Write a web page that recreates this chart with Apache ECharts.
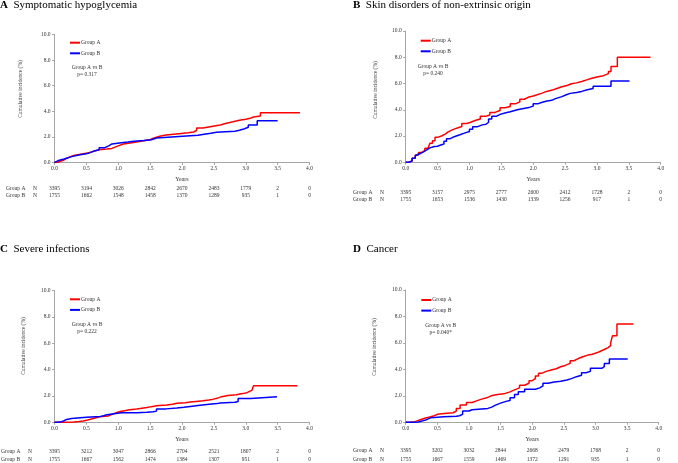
<!DOCTYPE html>
<html>
<head>
<meta charset="utf-8">
<script src="https://cdn.jsdelivr.net/npm/echarts@6/dist/echarts.min.js"></script>
<style>
  html, body { margin: 0; padding: 0; background: #fff; }
  #main { width: 678px; height: 463px; }
</style>
</head>
<body>
<div id="main"></div>
<script>
// cumulative incidence (%) step points [years, pct]
var aRed = [[0,0],[0.05,0.1],[0.09,0.2],[0.15,0.32],[0.19,0.46],[0.25,0.55],[0.3,0.68],[0.45,0.75],[0.52,0.85],[0.6,1.0],[0.7,1.05],[0.82,1.1],[0.9,1.2],[0.95,1.3],[1.0,1.45],[1.08,1.57],[1.24,1.7],[1.4,1.78],[1.5,1.9],[1.55,2.05],[1.65,2.15],[1.75,2.25],[1.95,2.32],[2.1,2.38],[2.18,2.5],[2.23,2.7],[2.33,2.8],[2.44,2.93],[2.6,3.05],[2.68,3.18],[2.8,3.3],[2.9,3.38],[3.0,3.45],[3.07,3.55],[3.12,3.63],[3.23,3.88],[3.85,3.88]];
var aBlue = [[0,0],[0.03,0.15],[0.06,0.27],[0.15,0.35],[0.2,0.46],[0.27,0.6],[0.4,0.68],[0.5,0.75],[0.55,0.9],[0.62,1.0],[0.7,1.16],[0.79,1.3],[0.85,1.45],[0.9,1.55],[1.05,1.6],[1.15,1.66],[1.25,1.72],[1.4,1.78],[1.52,1.92],[1.6,2.07],[2.07,2.12],[2.25,2.2],[2.35,2.28],[2.45,2.36],[2.54,2.45],[2.83,2.52],[2.9,2.62],[2.97,2.75],[3.04,2.93],[3.18,3.27],[3.5,3.27]];

var bRed = [[0,0],[0.05,0.1],[0.1,0.3],[0.15,0.55],[0.2,0.75],[0.25,0.9],[0.3,1.07],[0.35,1.2],[0.38,1.45],[0.42,1.65],[0.46,1.9],[0.5,2.0],[0.56,2.15],[0.62,2.3],[0.66,2.45],[0.72,2.6],[0.8,2.72],[0.88,2.95],[0.96,3.05],[1.02,3.2],[1.1,3.3],[1.17,3.5],[1.25,3.6],[1.32,3.8],[1.4,3.95],[1.48,4.15],[1.56,4.25],[1.64,4.45],[1.72,4.6],[1.79,4.8],[1.86,4.95],[1.92,5.05],[2.0,5.12],[2.05,5.25],[2.13,5.4],[2.21,5.5],[2.3,5.62],[2.37,5.75],[2.45,5.85],[2.53,5.98],[2.6,6.05],[2.68,6.16],[2.76,6.28],[2.84,6.4],[2.92,6.5],[3.0,6.6],[3.1,6.65],[3.13,6.75],[3.18,6.92],[3.22,7.3],[3.32,8.0],[3.84,8.0]];
var bBlue = [[0,0],[0.05,0.1],[0.1,0.3],[0.15,0.5],[0.17,0.65],[0.22,0.8],[0.28,0.95],[0.33,1.1],[0.38,1.2],[0.45,1.22],[0.5,1.3],[0.54,1.4],[0.6,1.6],[0.64,1.8],[0.7,1.95],[0.76,2.1],[0.85,2.22],[0.92,2.35],[1.0,2.52],[1.05,2.7],[1.12,2.85],[1.2,2.9],[1.26,3.05],[1.3,3.3],[1.35,3.5],[1.42,3.65],[1.48,3.78],[1.57,3.85],[1.64,4.0],[1.75,4.1],[1.85,4.2],[1.95,4.28],[2.0,4.45],[2.07,4.55],[2.13,4.65],[2.2,4.72],[2.29,4.85],[2.35,5.0],[2.45,5.14],[2.52,5.25],[2.58,5.32],[2.68,5.4],[2.76,5.52],[2.85,5.62],[2.94,5.8],[3.22,6.2],[3.51,6.2]];

var cRed = [[0,0],[0.1,0.01],[0.2,0.03],[0.3,0.06],[0.38,0.1],[0.45,0.18],[0.52,0.25],[0.58,0.35],[0.65,0.42],[0.71,0.48],[0.84,0.6],[0.9,0.72],[0.97,0.82],[1.03,0.9],[1.12,0.95],[1.18,1.01],[1.29,1.12],[1.45,1.19],[1.52,1.25],[1.6,1.31],[1.76,1.37],[1.85,1.45],[1.92,1.49],[2.05,1.54],[2.13,1.58],[2.22,1.63],[2.33,1.7],[2.42,1.76],[2.49,1.82],[2.55,1.95],[2.62,2.03],[2.72,2.1],[2.85,2.18],[2.95,2.25],[3.02,2.35],[3.06,2.45],[3.1,2.58],[3.12,2.77],[3.81,2.77]];
var cBlue = [[0,0],[0.05,0.05],[0.11,0.12],[0.15,0.22],[0.19,0.28],[0.27,0.38],[0.5,0.43],[0.65,0.45],[0.72,0.5],[0.77,0.58],[0.82,0.73],[1.05,0.73],[1.29,0.77],[1.45,0.8],[1.55,0.85],[1.6,1.02],[1.75,1.08],[1.92,1.14],[2.03,1.2],[2.13,1.27],[2.25,1.35],[2.39,1.42],[2.55,1.47],[2.6,1.52],[2.83,1.58],[2.88,1.8],[3.08,1.95],[3.49,1.95]];

var dRed = [[0,0],[0.07,0.05],[0.15,0.18],[0.22,0.3],[0.3,0.4],[0.38,0.5],[0.45,0.6],[0.5,0.68],[0.65,0.72],[0.75,0.85],[0.8,1.05],[0.86,1.3],[0.96,1.5],[1.05,1.62],[1.12,1.75],[1.2,1.85],[1.28,2.0],[1.35,2.1],[1.45,2.15],[1.55,2.3],[1.65,2.45],[1.72,2.6],[1.8,2.8],[1.88,2.95],[1.95,3.15],[2.0,3.3],[2.05,3.5],[2.1,3.7],[2.15,3.85],[2.22,3.95],[2.3,4.05],[2.38,4.2],[2.45,4.3],[2.52,4.45],[2.6,4.65],[2.66,4.8],[2.72,4.95],[2.8,5.08],[2.88,5.15],[2.95,5.25],[3.02,5.35],[3.07,5.5],[3.14,5.65],[3.2,5.8],[3.24,6.0],[3.27,6.55],[3.34,7.43],[3.6,7.43]];
var dBlue = [[0,0],[0.1,0.03],[0.2,0.12],[0.27,0.2],[0.33,0.35],[0.4,0.42],[0.6,0.45],[0.8,0.5],[0.85,0.6],[0.9,0.85],[1.0,0.95],[1.05,1.05],[1.3,1.15],[1.36,1.3],[1.42,1.45],[1.5,1.6],[1.6,1.65],[1.65,1.85],[1.72,2.1],[1.78,2.3],[1.88,2.5],[2.05,2.6],[2.12,2.75],[2.17,2.95],[2.25,3.05],[2.35,3.1],[2.45,3.2],[2.55,3.3],[2.62,3.45],[2.7,3.55],[2.78,3.75],[2.85,3.85],[2.92,4.08],[3.1,4.2],[3.14,4.45],[3.22,4.79],[3.51,4.79]];

// numbers at risk at 0, 0.5, ... 4.0 years
var aRiskA = [3395,3194,3026,2842,2670,2483,1779,2,0];
var aRiskB = [1755,1662,1548,1458,1370,1289,935,1,0];
var bRiskA = [3395,3157,2975,2777,2600,2412,1728,2,0];
var bRiskB = [1755,1653,1536,1430,1339,1256,917,1,0];
var cRiskA = [3395,3212,3047,2866,2704,2521,1807,2,0];
var cRiskB = [1755,1667,1562,1474,1384,1307,951,1,0];
var dRiskA = [3395,3202,3032,2844,2668,2479,1768,2,0];
var dRiskB = [1755,1667,1559,1469,1372,1291,935,1,0];

var titles = ['Symptomatic hypoglycemia','Skin disorders of non-extrinsic origin','Severe infections','Cancer'];
var letters = ['A','B','C','D'];
var pValues = ['p= 0.317','p= 0.240','p= 0.222','p= 0.040*'];

var FONT = 'Liberation Serif';
var RED = '#ff0000', BLUE = '#0000ff', AXIS = '#a6a6a6', TXT = '#333';

// layout of each panel (pixels)
var panels = [
    {red:aRed, blue:aBlue, riskA:aRiskA, riskB:aRiskB,
     grid:{left:54.5, top:34.5, width:255, height:128},
     title:[0,0], legend:[70,39.2], stats:[87,68], yName:[21,89], rows:[23,30.5], rowLbl:[6,33]},
    {red:bRed, blue:bBlue, riskA:bRiskA, riskB:bRiskB,
     grid:{left:405.7, top:31, width:255, height:131.3},
     title:[353,0], legend:[420.7,37.2], stats:[433,66.7], yName:[376,90], rows:[27.4,34.7], rowLbl:[353,380]},
    {red:cRed, blue:cBlue, riskA:cRiskA, riskB:cRiskB,
     grid:{left:54.5, top:290.7, width:255, height:131.6},
     title:[0,244], legend:[70,295.8], stats:[87,324.3], yName:[24,346], rows:[26.4,34], rowLbl:[1,28]},
    {red:dRed, blue:dBlue, riskA:dRiskA, riskB:dRiskB,
     grid:{left:405.7, top:290, width:253, height:132.3},
     title:[353,244], legend:[421.3,296.5], stats:[440.7,326], yName:[374.7,347], rows:[25.4,34], rowLbl:[353,380]}
];

var grids = [], xAxes = [], yAxes = [], series = [], legends = [], titleList = [], graphics = [];

panels.forEach(function (p, i) {
    grids.push(Object.assign({containLabel: false}, p.grid));

    titleList.push({
        left: p.title[0], top: p.title[1], padding: 0,
        text: '{b|' + letters[i] + '}  ' + titles[i],
        textStyle: {
            fontFamily: FONT, fontSize: 11, fontWeight: 'normal', color: '#000',
            rich: {b: {fontFamily: FONT, fontSize: 11, fontWeight: 'bold', color: '#000'}}
        }
    });

    // main axis
    xAxes.push({
        gridIndex: i, type: 'value', min: 0, max: 4, interval: 0.5,
        name: 'Years', nameLocation: 'middle', nameGap: 14,
        nameTextStyle: {fontFamily: FONT, fontSize: 6, color: TXT},
        axisLine: {lineStyle: {color: AXIS, width: 1}},
        axisTick: {show: true, length: 2.5, lineStyle: {color: AXIS}},
        splitLine: {show: false},
        axisLabel: {fontFamily: FONT, fontSize: 5.5, color: TXT, margin: 3,
            formatter: function (v) { return v.toFixed(1); }}
    });
    // at-risk rows drawn as extra axes on the same scale
    [p.riskA, p.riskB].forEach(function (risk, r) {
        xAxes.push({
            gridIndex: i, type: 'value', min: 0, max: 4, interval: 0.5,
            position: 'bottom', offset: p.rows[r],
            axisLine: {show: false}, axisTick: {show: false}, splitLine: {show: false},
            axisLabel: {fontFamily: FONT, fontSize: 5.5, color: TXT, margin: 0,
                showMinLabel: true, showMaxLabel: true,
                formatter: function (v) { return String(risk[Math.round(v / 0.5)]); }}
        });
    });

    yAxes.push({
        gridIndex: i, type: 'value', min: 0, max: 10, interval: 2,
        axisLine: {show: true, lineStyle: {color: AXIS, width: 1}},
        axisTick: {show: true, length: 2.5, lineStyle: {color: AXIS}},
        splitLine: {show: false},
        axisLabel: {fontFamily: FONT, fontSize: 5.5, color: TXT, margin: 4,
            formatter: function (v) { return v.toFixed(1); }}
    });

    [['Group A', p.red, RED], ['Group B', p.blue, BLUE]].forEach(function (s) {
        series.push({
            name: s[0], type: 'line', step: 'end', xAxisIndex: i * 3, yAxisIndex: i,
            data: s[1], showSymbol: false, symbol: 'none',
            lineStyle: {color: s[2], width: 1.5}, itemStyle: {color: s[2]},
            silent: true
        });
    });

    legends.push({
        left: p.legend[0], top: p.legend[1], orient: 'vertical', padding: 0,
        icon: 'rect', itemWidth: 10, itemHeight: 2, itemGap: 3.6,
        data: ['Group A', 'Group B'], selectedMode: false,
        textStyle: {fontFamily: FONT, fontSize: 5.5, color: TXT, lineHeight: 7, padding: [0, 0, 0, -4]}
    });

    graphics.push({
        type: 'text', x: p.stats[0], y: p.stats[1],
        style: {text: 'Group A vs B', font: '5.5px "' + FONT + '"', fill: TXT, textAlign: 'center', textVerticalAlign: 'middle'}
    });
    graphics.push({
        type: 'text', x: p.stats[0], y: p.stats[1] + 7,
        style: {text: pValues[i], font: '5.5px "' + FONT + '"', fill: TXT, textAlign: 'center', textVerticalAlign: 'middle'}
    });
    graphics.push({
        type: 'text', x: p.yName[0], y: p.yName[1], rotation: Math.PI / 2,
        style: {text: 'Cumulative incidence (%)', font: '5.5px "' + FONT + '"', fill: TXT, textAlign: 'center', textVerticalAlign: 'middle'}
    });
    var axisY = p.grid.top + p.grid.height;
    ['Group A', 'Group B'].forEach(function (g, r) {
        var y = axisY + p.rows[r] + 3;
        graphics.push({type: 'text', x: p.rowLbl[0], y: y,
            style: {text: g, font: '5.5px "' + FONT + '"', fill: TXT, textVerticalAlign: 'middle'}});
        graphics.push({type: 'text', x: p.rowLbl[1], y: y,
            style: {text: 'N', font: '5.5px "' + FONT + '"', fill: TXT, textVerticalAlign: 'middle'}});
    });
});

var chart = echarts.init(document.getElementById('main'));
chart.setOption({
    animation: false,
    backgroundColor: '#fff',
    title: titleList,
    legend: legends,
    grid: grids,
    xAxis: xAxes,
    yAxis: yAxes,
    series: series,
    graphic: graphics
});
</script>
</body>
</html>
